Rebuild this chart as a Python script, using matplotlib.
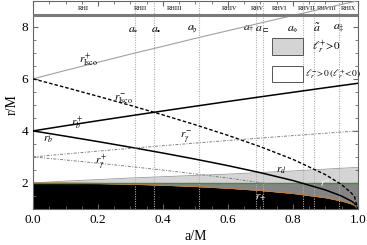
import matplotlib
matplotlib.use("Agg")
import matplotlib.pyplot as plt
from matplotlib.patches import Rectangle
from matplotlib.ticker import MultipleLocator

plt.rcParams['font.family'] = ['Liberation Serif', 'DejaVu Serif']
plt.rcParams['mathtext.fontset'] = 'stix'

# spin grid a/M
a = [0.0, 0.1, 0.2, 0.3, 0.4, 0.5, 0.6, 0.7, 0.8, 0.9, 0.95, 0.98, 0.99, 1.0]

# horizon r_+
r_hor = [2.0, 1.995, 1.980, 1.954, 1.917, 1.866, 1.800, 1.714, 1.600, 1.436, 1.312, 1.199, 1.141, 1.0]
# ISCO, retrograde (+) and prograde (-)
r_isco_p = [6.0, 6.323, 6.635, 6.949, 7.249, 7.555, 7.849, 8.143, 8.432, 8.717, 8.860, 8.943, 8.972, 9.0]
r_isco_m = [6.0, 5.669, 5.329, 4.979, 4.614, 4.233, 3.829, 3.393, 2.907, 2.321, 1.937, 1.614, 1.455, 1.0]
# marginally bound
r_b_p = [4.0, 4.198, 4.391, 4.580, 4.766, 4.949, 5.130, 5.308, 5.483, 5.657, 5.743, 5.794, 5.811, 5.828]
r_b_m = [4.0, 3.797, 3.589, 3.373, 3.149, 2.914, 2.665, 2.395, 2.094, 1.732, 1.497, 1.303, 1.210, 1.0]
# photon orbits
r_gam_p = [3.0, 3.113, 3.223, 3.329, 3.432, 3.532, 3.630, 3.725, 3.819, 3.910, 3.955, 3.982, 3.991, 4.0]
r_gam_m = [3.0, 2.883, 2.760, 2.631, 2.493, 2.347, 2.189, 2.013, 1.811, 1.558, 1.387, 1.239, 1.167, 1.0]
# upper edge of the light-gray region
r_d = [2.0, 2.07, 2.13, 2.19, 2.24, 2.29, 2.34, 2.40, 2.46, 2.53, 2.565, 2.585, 2.59, 2.6]
r_erg = [2.0] * len(a)

# special spins and region names
a_special = [0.314, 0.373, 0.511, 0.686, 0.707, 0.832, 0.865, 0.943]
a_names = [r'$a_{\circ}$', r'$a_{\bullet}$', r'$a_{\flat}$', r'$a_{\dagger}$',
           r'$a_{\sqsubset}$', r'$a_{\diamond}$', r'$\tilde{a}$', r'$a_{\ddagger}$']
a_name_x = [0.307, 0.378, 0.49, 0.665, 0.705, 0.80, 0.875, 0.94]
regions = ['RHI', 'RHII', 'RHIII', 'RHIV', 'RHV', 'RHVI', 'RHVII', 'RHVIII', 'RHIX']
region_x = [0.154, 0.33, 0.437, 0.606, 0.692, 0.76, 0.843, 0.905, 0.972]

fig = plt.figure(figsize=(3.67, 2.45), dpi=100)
ax = fig.add_axes([0.09, 0.147, 0.885, 0.85])

# regions
ax.fill_between(a, 0, r_hor, color='black', lw=0, zorder=1)
ax.fill_between(a, r_hor, r_erg, color='#858585', lw=0, zorder=1)
ax.fill_between(a, r_erg, r_d, color='#d4d4d4', lw=0, zorder=1)
ax.plot(a, r_d, color='#9a9a9a', lw=0.6, zorder=2)
ax.plot(a, r_hor, color='#c07a3a', lw=0.9, zorder=3)
ax.plot(a, r_erg, color='#3d8f2f', lw=1.0, zorder=3)

# vertical markers
for av in a_special:
    ax.axvline(av, color='#b0b0b0', ls=(0, (1, 1.2)), lw=0.8, zorder=2)

# curves
ax.plot(a, r_isco_p, color='#a0a0a0', lw=0.8, zorder=4)
ax.plot(a, r_isco_m, color='black', lw=1.0, ls=(0, (2.5, 1.5)), zorder=4)
ax.plot(a, r_b_p, color='black', lw=1.1, zorder=4)
ax.plot(a, r_b_m, color='black', lw=1.1, zorder=4)
ax.plot(a, r_gam_p, color='#808080', lw=0.7, ls=(0, (3, 1.5, 1, 1.5)), zorder=4)
ax.plot(a, r_gam_m, color='#808080', lw=0.7, ls=(0, (3, 1.5, 1, 1.5)), zorder=4)

# top bar with region names
ax.plot([0, 1], [8.45, 8.45], color='#7a7a7a', lw=2.2, zorder=5, solid_capstyle='butt')
for nm, xx in zip(regions, region_x):
    ax.text(xx, 8.72, nm, fontsize=4.2, ha='center', va='center', color='#444444', weight='bold')
for nm, xx in zip(a_names, a_name_x):
    ax.text(xx, 7.93, nm, fontsize=8.5, ha='center', va='center')

# curve labels
ax.text(0.17, 6.71, r'$r^{+}_{\rm Isco}$', fontsize=8, ha='center', va='center', zorder=6)
ax.text(0.28, 5.2, r'$r^{-}_{\rm Isco}$', fontsize=8, ha='center', va='center', zorder=6)
ax.text(0.135, 4.32, r'$r^{+}_{b}$', fontsize=8, ha='center', va='center', zorder=6)
ax.text(0.045, 3.67, r'$r_{b}$', fontsize=8, ha='center', va='center', zorder=6)
ax.text(0.21, 2.8, r'$r^{+}_{\gamma}$', fontsize=8, ha='center', va='center', zorder=6)
ax.text(0.47, 3.75, r'$r^{-}_{\gamma}$', fontsize=8, ha='center', va='center', zorder=6)
ax.text(0.765, 2.46, r'$r_{d}$', fontsize=8, ha='center', va='center', zorder=6)
ax.text(0.9, 1.96, r'$r^{-}$', fontsize=7, ha='center', va='center', color='white', zorder=6)
ax.text(0.70, 1.43, r'$r_{+}$', fontsize=8, ha='center', va='center', color='white', zorder=6)

# legend boxes
ax.add_patch(Rectangle((0.735, 6.9), 0.096, 0.65, facecolor='#d4d4d4', edgecolor='#555555', lw=0.7, zorder=6))
ax.add_patch(Rectangle((0.735, 5.88), 0.096, 0.61, facecolor='white', edgecolor='#555555', lw=0.7, zorder=6))
ax.text(0.86, 7.2, r'$\ell^{+}_{r}\!>\!0$', fontsize=8, ha='left', va='center', zorder=6)
ax.text(0.838, 6.18, r'$\ell^{-}_{r}\!>\!0\,(\ell^{+}_{r}\!<\!0)$', fontsize=6.8, ha='left', va='center', zorder=6)

ax.set_xlim(0, 1)
ax.set_ylim(1, 9)
ax.xaxis.set_major_locator(MultipleLocator(0.2))
ax.xaxis.set_minor_locator(MultipleLocator(0.05))
ax.yaxis.set_major_locator(MultipleLocator(2))
ax.yaxis.set_minor_locator(MultipleLocator(0.5))
ax.tick_params(which='both', direction='in', top=True, right=True, color='#666666')
ax.tick_params(which='major', length=3.5, labelsize=9.5)
ax.tick_params(which='minor', length=2)
ax.set_xticks([0, 0.2, 0.4, 0.6, 0.8, 1.0])
ax.set_xticklabels(['0.0', '0.2', '0.4', '0.6', '0.8', '1.0'])
for sp in ax.spines.values():
    sp.set_color('#666666')
    sp.set_linewidth(0.8)
ax.set_xlabel('a/M', fontsize=10, labelpad=3)
ax.set_ylabel('r/M', fontsize=10, labelpad=2)

fig.savefig('out.png', dpi=100)
